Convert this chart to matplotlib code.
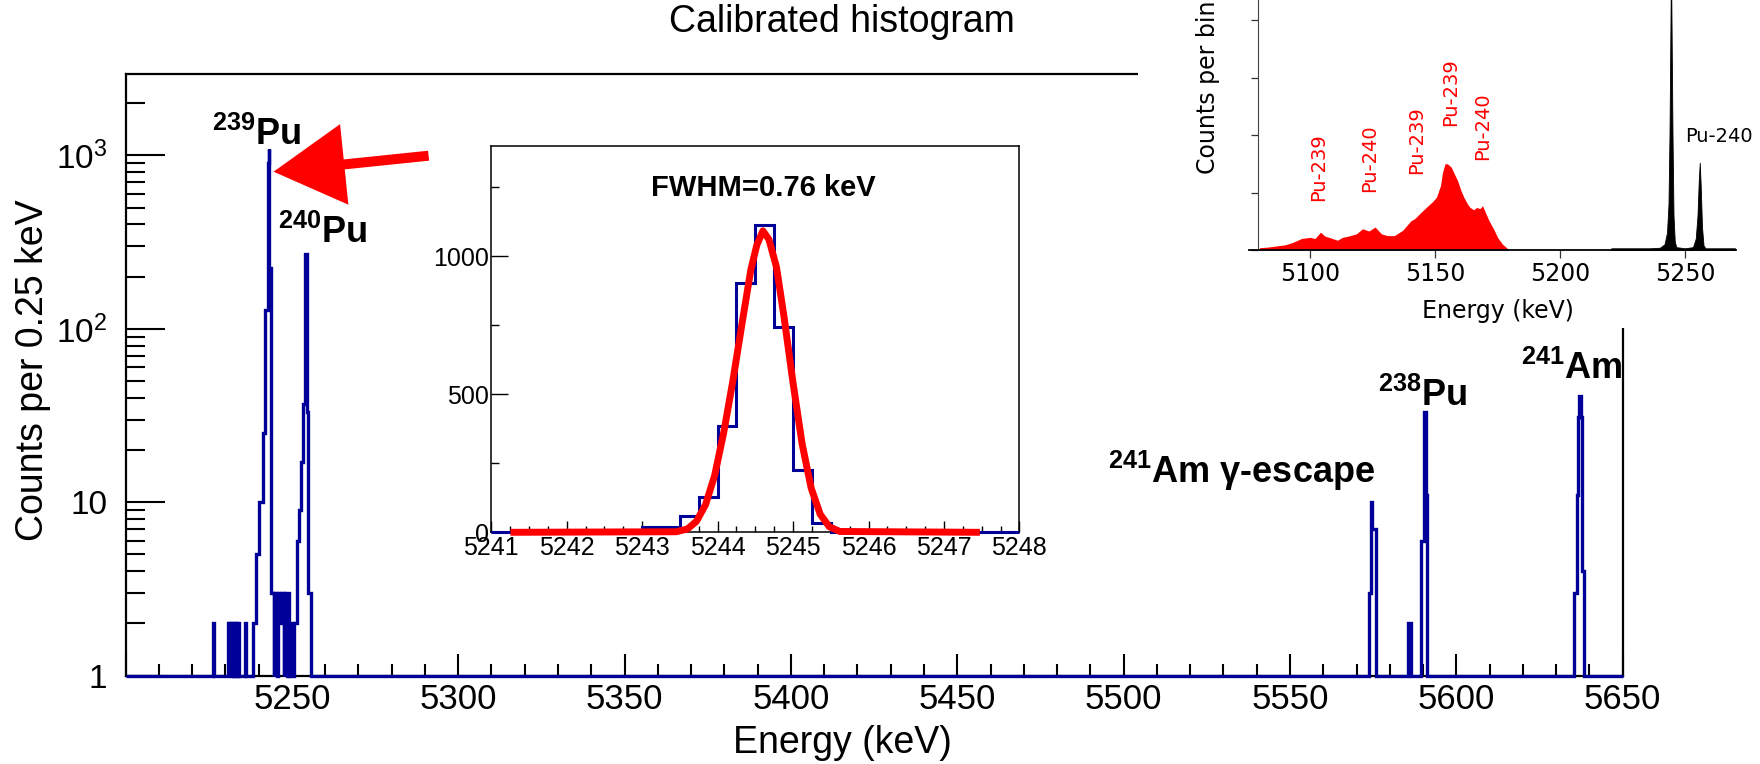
"""Calibrated alpha spectrum with a zoomed peak fit and a pasted reference spectrum."""
import matplotlib
matplotlib.use("Agg")
import matplotlib.pyplot as plt
import matplotlib.patches as mpatches
import matplotlib.ticker as ticker
import numpy as np

plt.rcParams.update({
    "font.family":      "Liberation Sans",
    "mathtext.fontset": "custom",
    "mathtext.rm":      "Liberation Sans",
    "mathtext.it":      "Liberation Sans:italic",
    "mathtext.bf":      "Liberation Sans:bold",
    "mathtext.sf":      "Liberation Sans",
})

# ── Main histogram (bin start energies in keV, counts per bin) ───────────────
MAIN_LEFT = [
    5200.0, 5226.25, 5226.5, 5230.75, 5231.0, 5231.25, 5231.75, 5232.0,
    5232.25, 5232.5, 5233.0, 5233.25, 5233.5, 5233.75, 5234.25, 5234.5,
    5236.0, 5236.25, 5238.25, 5239.25, 5240.25, 5241.25, 5242.0, 5242.75,
    5243.0, 5243.25, 5243.75, 5244.5, 5244.75, 5245.5, 5245.75, 5246.5,
    5246.75, 5247.5, 5247.75, 5248.0, 5248.5, 5248.75, 5249.25, 5249.5,
    5250.25, 5250.5, 5251.5, 5252.25, 5252.75, 5253.25, 5254.0, 5254.5,
    5255.0, 5255.75, 5573.75, 5574.25, 5574.75, 5575.75, 5585.5, 5586.25,
    5589.5, 5590.25, 5590.75, 5591.25, 5635.5, 5636.25, 5636.5, 5637.0,
    5637.5, 5637.75, 5638.25,
]
MAIN_END = 5650.0
MAIN_COUNTS = [
    0, 2, 0, 2, 1, 2, 1, 2,
    1, 2, 1, 2, 1, 2, 1, 0,
    2, 0, 2, 5, 10, 25, 128, 900,
    1084, 224, 3, 1, 3, 1, 3, 2,
    3, 1, 3, 2, 1, 3, 1, 2,
    1, 2, 6, 9, 17, 37, 270, 33,
    3, 0, 3, 10, 7, 0, 2, 0,
    6, 33, 11, 0, 3, 11, 31, 41,
    31, 4, 0,
]

# ── Zoomed 239Pu peak (0.25 keV bins from 5241 keV) and Gaussian fit curve ───
INSET_START = 5241.0
INSET_BIN = 0.25
INSET_COUNTS = [
    0, 0, 0, 0, 0, 0, 0, 0,
    20, 20, 60, 126, 383, 903, 1111, 744, 224, 35,
    0, 0, 0, 0, 0, 0, 0, 0, 0, 0,
]
FIT_E = [5241.30, 5243.45, 5243.60, 5243.72, 5243.84, 5243.96, 5244.08,
         5244.20, 5244.32, 5244.44, 5244.52, 5244.60, 5244.68, 5244.78,
         5244.88, 5245.00, 5245.12, 5245.24, 5245.36, 5245.48, 5245.62,
         5247.43]
FIT_COUNTS = [0, 2, 12, 40, 100, 205, 360, 545, 750, 950, 1040, 1091, 1060,
              960, 780, 540, 320, 160, 65, 20, 3, 0]

# ── Pasted reference spectrum (arbitrary units) ──────────────────────────────
RED_E = [5079.8, 5083.0, 5086.5, 5090.0, 5093.0, 5096.6, 5100.0, 5102.0,
         5104.2, 5106.0, 5107.6, 5111.0, 5113.0, 5115.2, 5118.5, 5121.0,
         5123.6, 5126.0, 5128.6, 5131.0, 5133.7, 5137.0, 5140.4, 5142.0,
         5143.8, 5145.5, 5147.2, 5149.0, 5150.6, 5152.2, 5153.0, 5154.0,
         5155.0, 5156.5, 5158.0, 5159.0, 5160.5, 5161.5, 5163.0, 5164.0,
         5165.5, 5166.6, 5168.0, 5169.0, 5170.5, 5171.6, 5173.5, 5175.0,
         5177.0, 5178.4, 5179.5]
RED_H = [0.04, 0.05, 0.07, 0.09, 0.13, 0.20, 0.22, 0.20,
         0.31, 0.24, 0.22, 0.17, 0.22, 0.24, 0.28, 0.37,
         0.33, 0.40, 0.28, 0.25, 0.25, 0.34, 0.51, 0.55,
         0.63, 0.70, 0.77, 0.84, 0.92, 1.12, 1.35, 1.50,
         1.50, 1.44, 1.30, 1.21, 1.02, 0.92, 0.80, 0.74,
         0.70, 0.74, 0.72, 0.77, 0.62, 0.51, 0.36, 0.22,
         0.10, 0.05, 0.0]
BLACK_E = [5220.5, 5236.0, 5240.0, 5241.8, 5242.8, 5243.4, 5243.8, 5244.1,
           5244.4, 5244.7, 5245.0, 5245.4, 5245.9, 5246.5, 5250.0, 5253.2,
           5254.3, 5255.0, 5255.5, 5255.9, 5256.3, 5256.8, 5257.4, 5258.2,
           5270.0]
BLACK_H = [0.03, 0.03, 0.04, 0.10, 0.30, 0.80, 2.0, 3.5,
           5.0, 3.5, 2.0, 0.6, 0.15, 0.05, 0.03, 0.05,
           0.2, 0.6, 1.2, 1.52, 1.1, 0.4, 0.08, 0.03,
           0.03]
RED_LABELS = ["Pu-239", "Pu-240", "Pu-239", "Pu-239", "Pu-240"]

BLUE = "#000099"
RED = "#ff0000"
W, H = 1760, 764


def box(x0, y0, x1, y1):
    """Pixel box (origin top-left) -> figure-fraction rect."""
    return [x0 / W, 1 - y1 / H, (x1 - x0) / W, (y1 - y0) / H]


def log_label(v, pos):
    if v < 5:
        return "1"
    if v < 50:
        return "10"
    return rf"$10^{{{int(round(np.log10(v)))}}}$"


fig = plt.figure(figsize=(W / 100, H / 100), dpi=100)

# ── Main axes ────────────────────────────────────────────────────────────────
ax = fig.add_axes(box(125.5, 74, 1622.7, 675.7), zorder=0)
ax.stairs(np.clip(MAIN_COUNTS, 1, None), MAIN_LEFT + [MAIN_END],
          baseline=None, color=BLUE, lw=2.4, clip_on=False, zorder=3)
ax.set_yscale("log")
ax.set_xlim(5200, 5650)
ax.set_ylim(1, 2950)
ax.xaxis.set_major_locator(ticker.MultipleLocator(50))
ax.xaxis.set_minor_locator(ticker.MultipleLocator(10))
ax.xaxis.set_major_formatter(ticker.FuncFormatter(
    lambda v, p: "" if v < 5225 else f"{v:.0f}"))
ax.yaxis.set_major_locator(ticker.LogLocator(base=10, numticks=10))
ax.yaxis.set_minor_locator(ticker.LogLocator(base=10, subs=np.arange(2, 10),
                                             numticks=20))
ax.yaxis.set_major_formatter(ticker.FuncFormatter(log_label))
ax.yaxis.set_minor_formatter(ticker.NullFormatter())
ax.tick_params(which="both", direction="in", top=False, right=False, width=1.5)
ax.tick_params(axis="x", which="major", length=15.6, labelsize=25, pad=5)
ax.tick_params(axis="x", which="minor", length=8.4)
ax.tick_params(axis="y", which="major", length=28, labelsize=24, pad=13)
ax.tick_params(axis="y", which="minor", length=14)
for s in ax.spines.values():
    s.set_linewidth(1.6)

ax.set_xlabel("Energy (keV)", fontsize=27, va="center")
ax.xaxis.set_label_coords(0.4786, -0.1118)
ax.set_ylabel("Counts per 0.25 keV", fontsize=27, va="center")
ax.yaxis.set_label_coords(-0.0621, 0.508)
ax.set_title("Calibrated histogram", fontsize=27, x=0.4786, y=1.0856,
             va="center", pad=0)

peak_kw = dict(fontsize=26, fontweight="bold", ha="left", va="baseline")
ax.text(5226.0, 1152, r"$^{\mathbf{239}}$Pu", **peak_kw)
ax.text(5245.7, 312, r"$^{\mathbf{240}}$Pu", **peak_kw)
ax.text(5495.2, 12.9, r"$^{\mathbf{241}}$Am γ-escape", **peak_kw)
ax.text(5576.5, 35.9, r"$^{\mathbf{238}}$Pu", **peak_kw)
ax.text(5619.4, 51.2, r"$^{\mathbf{241}}$Am", **peak_kw)

# ── Inset: zoom on the 239Pu peak with fit ───────────────────────────────────
ax1 = fig.add_axes(box(491.3, 145.5, 1019.4, 532.3), zorder=2)
edges = INSET_START + INSET_BIN * np.arange(len(INSET_COUNTS) + 1)
ax1.stairs(INSET_COUNTS, edges, baseline=None, color=BLUE, lw=2.2,
           clip_on=False, zorder=3)
ax1.plot(FIT_E, FIT_COUNTS, color=RED, lw=5, solid_joinstyle="round",
         clip_on=False, zorder=4)
ax1.set_xlim(5241, 5248)
ax1.set_ylim(0, 1400)
ax1.xaxis.set_major_locator(ticker.MultipleLocator(1))
ax1.xaxis.set_minor_locator(ticker.MultipleLocator(0.25))
ax1.yaxis.set_major_locator(ticker.MultipleLocator(500))
ax1.yaxis.set_minor_locator(ticker.MultipleLocator(250))
ax1.tick_params(which="both", direction="in", top=False, right=False,
                width=1.0, labelsize=18)
ax1.tick_params(axis="x", which="major", length=8, pad=3)
ax1.tick_params(axis="x", which="minor", length=4)
ax1.tick_params(axis="y", which="major", length=12, pad=2)
ax1.tick_params(axis="y", which="minor", length=6)
for s in ax1.spines.values():
    s.set_linewidth(1.1)
ax1.text(5244.61, 1245, "FWHM=0.76 keV", fontsize=21, fontweight="bold",
         ha="center", va="center")

# ── Red arrow pointing at the 239Pu peak ─────────────────────────────────────
fig.add_artist(mpatches.FancyArrow(
    4.286, 6.083, -1.55, -0.16, width=0.10, head_width=0.81,
    head_length=0.71, length_includes_head=True, color=RED, lw=0,
    transform=fig.dpi_scale_trans, zorder=5))

# ── Pasted reference spectrum, top right ─────────────────────────────────────
fig.add_artist(mpatches.Rectangle(
    (1138 / W, 1 - 328 / H), 1 - 1138 / W, 328 / H,
    transform=fig.transFigure, facecolor="white", edgecolor="none", zorder=3))

ax2 = fig.add_axes(box(1249, 0, 1735.5, 250), zorder=4)
ax2.patch.set_alpha(0)
ax2.fill_between(RED_E, RED_H, color=RED, lw=0)
ax2.fill_between(BLACK_E, BLACK_H, color="black", lw=0.6)
ax2.set_xlim(5075.6, 5270.2)
ax2.set_ylim(0, 4.35)
ax2.set_xticks([5100, 5150, 5200, 5250])
ax2.set_yticks([0, 1, 2, 3, 4])
ax2.tick_params(labelleft=False, direction="out", width=0.9, color="#333",
                labelsize=17, labelfontfamily="DejaVu Sans")
ax2.tick_params(axis="x", length=5.8, pad=3)
ax2.tick_params(axis="y", length=4.8)
ax2.spines[["top", "right"]].set_visible(False)
ax2.spines["left"].set_position(("data", 5079.3))
ax2.spines["left"].set_linewidth(0.8)
ax2.spines["left"].set_color("#444")
ax2.spines["bottom"].set_linewidth(1.3)
ax2.set_xlabel("Energy (keV)", fontsize=17, family="DejaVu Sans", va="center")
ax2.xaxis.set_label_coords(0.512, -0.244)
ax2.set_ylabel("Counts per bin", fontsize=17, family="DejaVu Sans",
               va="center")
ax2.yaxis.set_label_coords(-0.0843, 0.65)

for lab, e, y in zip(RED_LABELS, [5103.6, 5123.8, 5142.6, 5156.1, 5168.9],
                     [1.45, 1.60, 1.91, 2.75, 2.16]):
    ax2.text(e, y, lab, rotation=90, ha="center", va="center", color=RED,
             fontsize=14, family="DejaVu Sans")
ax2.text(5263.5, 1.98, "Pu-240", ha="center", va="center", fontsize=14,
         family="DejaVu Sans")

fig.savefig("out.png", dpi=100)
